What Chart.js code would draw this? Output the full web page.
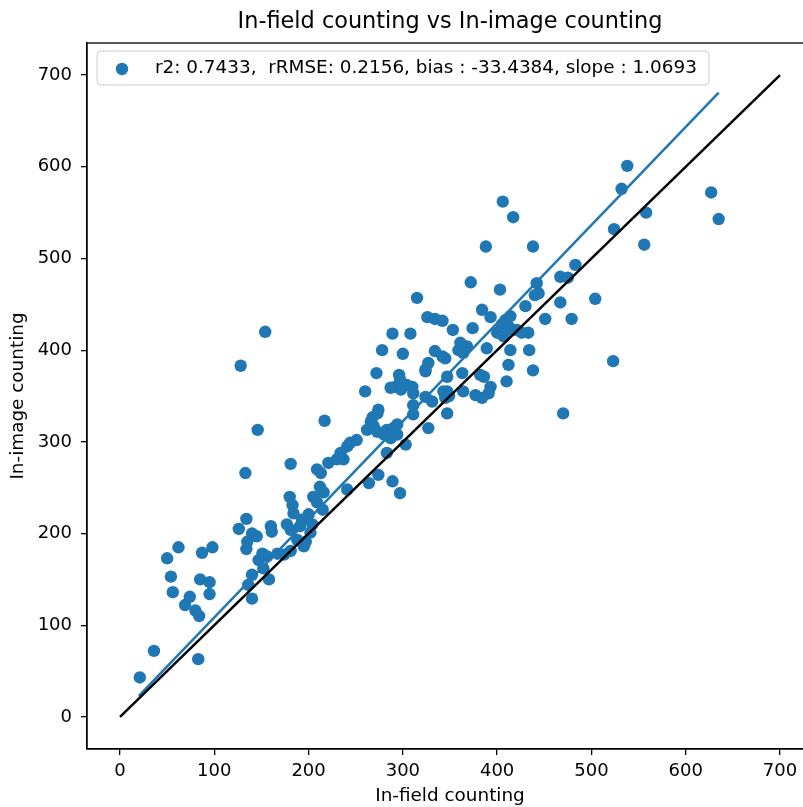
<!DOCTYPE html>
<html>
<head>
<meta charset="utf-8">
<script src="https://cdn.jsdelivr.net/npm/chart.js@4.4.1/dist/chart.umd.min.js"></script>
<style>
  html, body { margin: 0; padding: 0; overflow: hidden; background: #fff; }
  #wrap { width: 830px; height: 807px; }
</style>
</head>
<body>
<div id="wrap"><canvas id="chart" width="830" height="807"></canvas></div>
<script>
// in-field count (x) and in-image count (y) per plot
const fieldCounts = [
  21, 36, 83, 50, 62, 54, 56, 74, 69, 80, 84, 87, 98, 85, 95, 95,
  128, 154, 146, 133, 181, 217,
  134, 126, 134, 140, 145, 160, 161, 180, 183, 184, 177, 151, 156, 167, 174, 147, 152, 158, 140, 136, 140, 193, 188,
  135, 181, 195, 197, 204, 202, 191, 181, 200, 205, 209, 215, 212, 216, 209, 213, 221, 241,
  241, 234, 237, 230, 244, 251, 274, 264, 289, 297, 283, 303, 273, 311, 327,
  266, 269, 262, 273, 283, 290, 294, 280, 287, 294, 268,
  272, 260, 296, 292, 298, 304, 310, 287, 297, 311, 324, 324, 327,
  388, 372, 403, 315, 326, 334, 342, 353, 374, 384, 393, 289, 308, 278, 300, 334, 342, 345,
  361, 359, 364, 368, 324, 347, 363, 382, 393, 391, 377, 274, 311, 331, 343, 349, 364,
  442, 444, 440, 467, 504, 430, 409, 414, 405, 412, 416, 400, 407, 421, 426, 433, 451, 479,
  389, 414, 434, 412, 438, 523, 386, 410, 384, 347, 345, 347, 470,
  406, 417, 438, 467, 475, 483,
  538, 532, 627, 635, 558, 524, 556
];
const imageCounts = [
  43, 72, 63, 173, 185, 153, 136, 131, 122, 116, 110, 179, 185, 150, 147, 134,
  383, 420, 313, 266, 276, 323,
  216, 205, 183, 200, 197, 208, 202, 240, 231, 222, 210, 178, 175, 178, 177, 171, 162, 150, 155, 144, 129, 215, 193,
  191, 181, 186, 191, 210, 201, 208, 204, 221, 240, 234, 226, 251, 245, 270, 266, 277, 248,
  295, 288, 281, 281, 299, 302, 264, 255, 257, 244, 288, 297, 331, 330, 315,
  322, 317, 313, 311, 313, 315, 319, 308, 304, 308, 327,
  375, 355, 373, 360, 357, 362, 360, 359, 368, 353, 349, 379, 386,
  513, 474, 466, 457, 436, 434, 432, 422, 424, 444, 436, 418, 418, 400, 396, 399, 393, 391,
  408, 400, 397, 404, 377, 371, 375, 373, 360, 353, 351, 335, 340, 344, 355, 350, 355,
  473, 462, 460, 452, 456, 448, 433, 437, 428, 426, 422, 419, 415, 422, 419, 419, 434, 434,
  402, 400, 400, 384, 378, 388, 371, 366, 348, 355, 348, 331, 331,
  562, 545, 513, 480, 479, 493,
  601, 576, 572, 543, 550, 532, 515
];

// fitted regression line and 1:1 line end points
const fitX = [20, 635];
const fitY = [23, 681];
const oneToOneX = [0, 700];
const oneToOneY = [0, 700];

const tickValues = [0, 100, 200, 300, 400, 500, 600, 700];
const statsLabel = 'r2: 0.7433,  rRMSE: 0.2156, bias : -33.4384, slope : 1.0693';
const chartTitle = 'In-field counting vs In-image counting';

const FONT = 'DejaVu Sans';
const BLUE = '#1f77b4';
const TEXT_SIZE = 18.4;

const toPoints = (xs, ys) => xs.map((x, i) => ({ x: x, y: ys[i] }));

// axes frame, title and the in-plot legend box
const decorations = {
  id: 'decorations',
  afterDraw(chart) {
    const { ctx, chartArea: a } = chart;
    ctx.save();
    ctx.strokeStyle = '#000';
    ctx.lineWidth = 1.3;
    ctx.strokeRect(a.left, a.top, a.right - a.left, a.bottom - a.top);

    ctx.fillStyle = '#000';
    ctx.font = '22.4px "' + FONT + '"';
    ctx.textAlign = 'center';
    ctx.textBaseline = 'middle';
    ctx.fillText(chartTitle, (a.left + a.right) / 2, 22);

    // legend
    const bx = 97, by = 51, bw = 612, bh = 34, r = 4;
    ctx.beginPath();
    ctx.roundRect(bx, by, bw, bh, r);
    ctx.fillStyle = 'rgba(255,255,255,0.8)';
    ctx.fill();
    ctx.strokeStyle = '#cccccc';
    ctx.lineWidth = 1;
    ctx.stroke();

    ctx.beginPath();
    ctx.arc(122, 69, 6.2, 0, Math.PI * 2);
    ctx.fillStyle = BLUE;
    ctx.fill();

    ctx.fillStyle = '#000';
    ctx.font = TEXT_SIZE + 'px "' + FONT + '"';
    ctx.textAlign = 'left';
    ctx.fillText(chart.data.datasets[0].label, 155, 68);
    ctx.restore();
  }
};

const axisCommon = {
  type: 'linear',
  min: -35,
  max: 735,
  afterBuildTicks: s => { s.ticks = tickValues.map(v => ({ value: v })); },
  grid: { drawOnChartArea: false, drawTicks: true, tickLength: 6, color: '#000', lineWidth: 1.3 },
  border: { display: true, color: '#000', width: 1.3 },
  ticks: { color: '#000', font: { family: FONT, size: 18 }, autoSkip: false, maxRotation: 0 }
};

new Chart(document.getElementById('chart'), {
  type: 'scatter',
  data: {
    datasets: [
      {
        label: statsLabel,
        data: toPoints(fieldCounts, imageCounts),
        backgroundColor: BLUE,
        borderWidth: 0,
        pointRadius: 6.2,
        order: 3
      },
      {
        label: 'fit',
        data: toPoints(fitX, fitY),
        showLine: true,
        borderColor: BLUE,
        borderWidth: 2.5,
        pointRadius: 0,
        order: 2
      },
      {
        label: '1:1',
        data: toPoints(oneToOneX, oneToOneY),
        showLine: true,
        borderColor: '#000',
        borderWidth: 2.5,
        pointRadius: 0,
        order: 1
      }
    ]
  },
  options: {
    responsive: false,
    animation: false,
    layout: { padding: { top: 43, right: 17, bottom: 0, left: 0 } },
    plugins: { legend: { display: false }, tooltip: { enabled: false } },
    scales: {
      x: Object.assign({}, axisCommon, {
        ticks: Object.assign({}, axisCommon.ticks, { padding: 6 }),
        title: { display: true, text: 'In-field counting', color: '#000',
                 font: { family: FONT, size: TEXT_SIZE }, padding: { top: 0, bottom: 0 } },
        afterFit: s => { s.height = 58; }
      }),
      y: Object.assign({}, axisCommon, {
        ticks: Object.assign({}, axisCommon.ticks, { padding: 9 }),
        title: { display: true, text: 'In-image counting', color: '#000',
                 font: { family: FONT, size: TEXT_SIZE }, padding: { top: 7, bottom: 0 } },
        afterFit: s => { s.width = 87; }
      })
    }
  },
  plugins: [decorations]
});
</script>
</body>
</html>
